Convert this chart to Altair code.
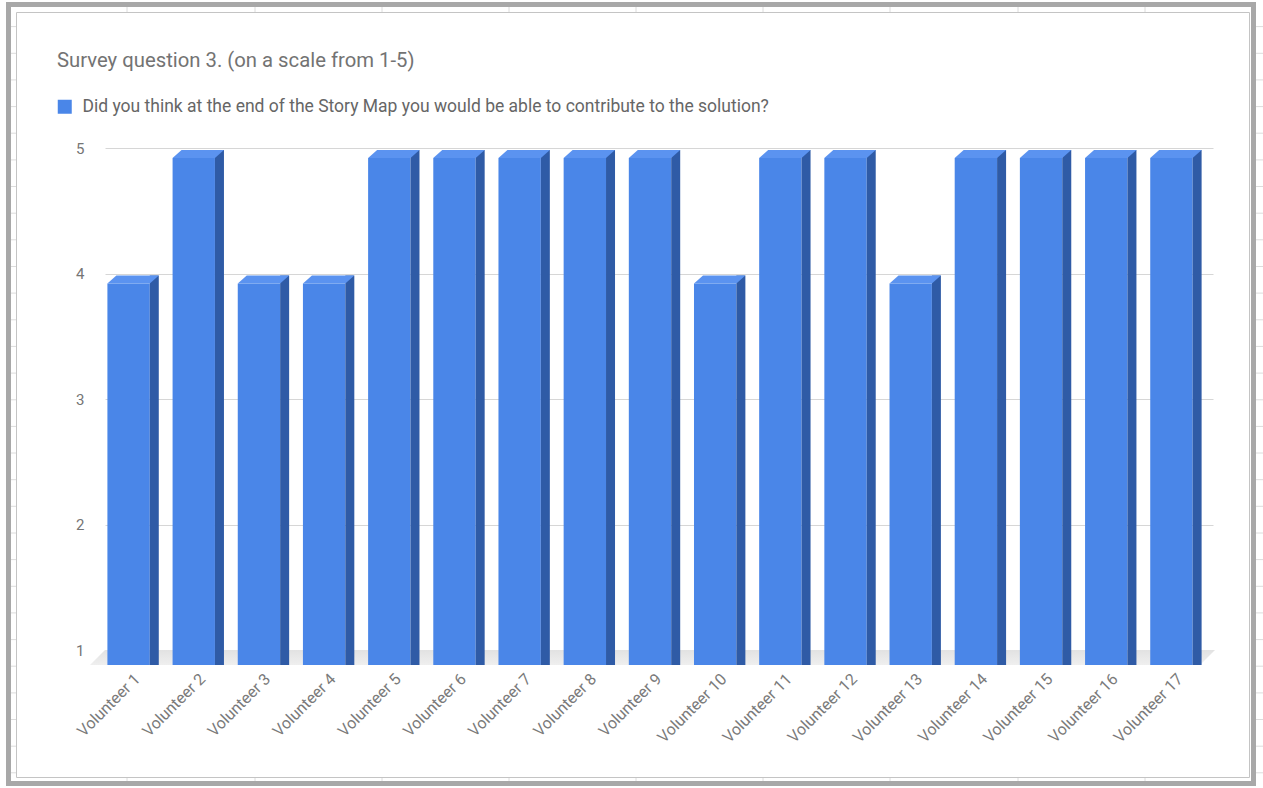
import altair as alt
import pandas as pd

# ---- data -------------------------------------------------------------
volunteers = [
    "Volunteer 1", "Volunteer 2", "Volunteer 3", "Volunteer 4", "Volunteer 5",
    "Volunteer 6", "Volunteer 7", "Volunteer 8", "Volunteer 9", "Volunteer 10",
    "Volunteer 11", "Volunteer 12", "Volunteer 13", "Volunteer 14", "Volunteer 15",
    "Volunteer 16", "Volunteer 17",
]
scores = [4, 5, 4, 4, 5, 5, 5, 5, 5, 4, 5, 5, 4, 5, 5, 5, 5]
y_ticks = [1, 2, 3, 4, 5]
series_name = ("Did you think at the end of the Story Map you would be able "
               "to contribute to the solution?")
chart_title = "Survey question 3. (on a scale from 1-5)"

df = pd.DataFrame({
    "volunteer": volunteers,
    "score": scores,
    "series": [series_name] * len(volunteers),
})

# ---- layout -----------------------------------------------------------
W, H = 1108, 502            # plot area (back wall of the 3D box)
OX, OY = 105, 148           # where the plot area sits on the page
CANVAS_W, CANVAS_H = 1263, 788
DX = 9                      # horizontal depth of the 3D columns
FONT = "Roboto"

FRONT = "#4a86e8"
SIDE = "#2f5ba6"
TOP = "#5b93f0"

# top face of a column: parallelogram around (band centre, y(score))
TOP_PATH = "M -21.2 2 L 21.2 2 L 12.2 10 L -30.2 10 Z"
# floor of the box: parallelogram under the baseline
FLOOR_PATH = "M 0 0 L 1110 0 L 1095 15 L -15 15 Z"

x_scale = alt.Scale(domain=volunteers, paddingInner=0.35, paddingOuter=0.175)
y_scale = alt.Scale(domain=[1, 5], nice=False, zero=False)

x_enc = alt.X(
    "volunteer:N", scale=x_scale, sort=volunteers,
    axis=alt.Axis(title=None, labelAngle=-45, labelAlign="right",
                  labelBaseline="middle", labelPadding=26, labelFontSize=16,
                  labelColor="#7a7a7a", labelFont=FONT, domain=False,
                  ticks=False, grid=False),
)
y_enc = alt.Y(
    "score:Q", scale=y_scale,
    axis=alt.Axis(title=None, values=y_ticks, domain=False, ticks=False,
                  labelPadding=21, labelFontSize=15, labelColor="#757575",
                  labelFont=FONT, gridColor="#d6d6d6", gridWidth=1),
)

base = alt.Chart(df)

front = base.mark_bar(xOffset=-DX, yOffset=10, y2Offset=15).encode(
    x=x_enc,
    y=y_enc,
    y2=alt.datum(1),
    color=alt.Color(
        "series:N", scale=alt.Scale(range=[FRONT]),
        legend=alt.Legend(orient="none", legendX=-49, legendY=-50, title=None,
                          symbolType="square", symbolSize=196,
                          symbolStrokeWidth=0, symbolOpacity=1,
                          labelFontSize=17.5, labelFont=FONT,
                          labelColor="#666666", labelOffset=9, labelLimit=0,
                          padding=0),
    ),
)

side = base.mark_bar(width=DX, xOffset=16.7, yOffset=2, y2Offset=15,
                     color=SIDE).encode(x=x_enc, y=y_enc, y2=alt.datum(1))

top = base.mark_point(shape=TOP_PATH, size=4, filled=True, opacity=1,
                      strokeWidth=0, color=TOP).encode(x=x_enc, y=y_enc)

one = pd.DataFrame({"k": [0]})

floor = alt.Chart(one).mark_point(
    shape=FLOOR_PATH, size=4, filled=True, opacity=1, strokeWidth=0,
    fill=alt.Gradient(gradient="linear", x1=0, y1=0, x2=0, y2=1,
                      stops=[alt.GradientStop(color="#e2e2e2", offset=0),
                             alt.GradientStop(color="#efefef", offset=1)]),
).encode(x=alt.value(0), y=alt.value(H))

title = alt.Chart(one).mark_text(
    text=chart_title, align="left", baseline="alphabetic", fontSize=20.3,
    font=FONT, color="#737373",
).encode(x=alt.value(57 - OX), y=alt.value(67 - OY))

# spreadsheet frame around the embedded chart
outer_band = alt.Chart(one).mark_rect(
    fillOpacity=0, stroke="#a8a8a8", strokeWidth=5
).encode(x=alt.value(8.5 - OX), x2=alt.value(1253.5 - OX),
         y=alt.value(4.5 - OY), y2=alt.value(783.5 - OY))

inner_line = alt.Chart(one).mark_rect(
    fillOpacity=0, stroke="#c4c4c4", strokeWidth=1
).encode(x=alt.value(16.5 - OX), x2=alt.value(1249.5 - OX),
         y=alt.value(12.5 - OY), y2=alt.value(777.5 - OY))

# faint sheet cell lines peeking out around the chart
col_x = [127, 255, 382, 509, 636, 763, 890, 1018, 1145]
row_y = [round(26.65 * k, 1) for k in range(1, 30)]

col_df = pd.DataFrame({"px": [c - OX for c in col_x]})
px = alt.X("px:Q", scale=None, axis=None)
cols_up = alt.Chart(col_df).mark_rule(color="#dcdcdc").encode(
    x=px, y=alt.value(7 - OY), y2=alt.value(12 - OY))
cols_down = alt.Chart(col_df).mark_rule(color="#dcdcdc").encode(
    x=px, y=alt.value(778 - OY), y2=alt.value(782 - OY))

row_df = pd.DataFrame({"py": [r - OY for r in row_y]})
py = alt.Y("py:Q", scale=None, axis=None)
rows_left = alt.Chart(row_df).mark_rule(color="#dcdcdc").encode(
    y=py, x=alt.value(11 - OX), x2=alt.value(16 - OX))
rows_right = alt.Chart(row_df).mark_rule(color="#dcdcdc").encode(
    y=py, x=alt.value(1256 - OX), x2=alt.value(CANVAS_W - OX))

frame = alt.layer(cols_up, cols_down, rows_left, rows_right,
                  outer_band, inner_line, title)
columns = alt.layer(floor, front, side, top)

chart = alt.layer(frame, columns).resolve_scale(
    x="independent", y="independent"
).properties(
    width=W, height=H,
    background="white",
    autosize=alt.AutoSizeParams(type="none"),
    padding={"left": OX, "top": OY, "right": CANVAS_W - OX - W,
             "bottom": CANVAS_H - OY - H},
).configure_view(stroke="transparent", strokeWidth=0)

chart.save("out.html", embed_options={"renderer": "svg", "actions": False})
